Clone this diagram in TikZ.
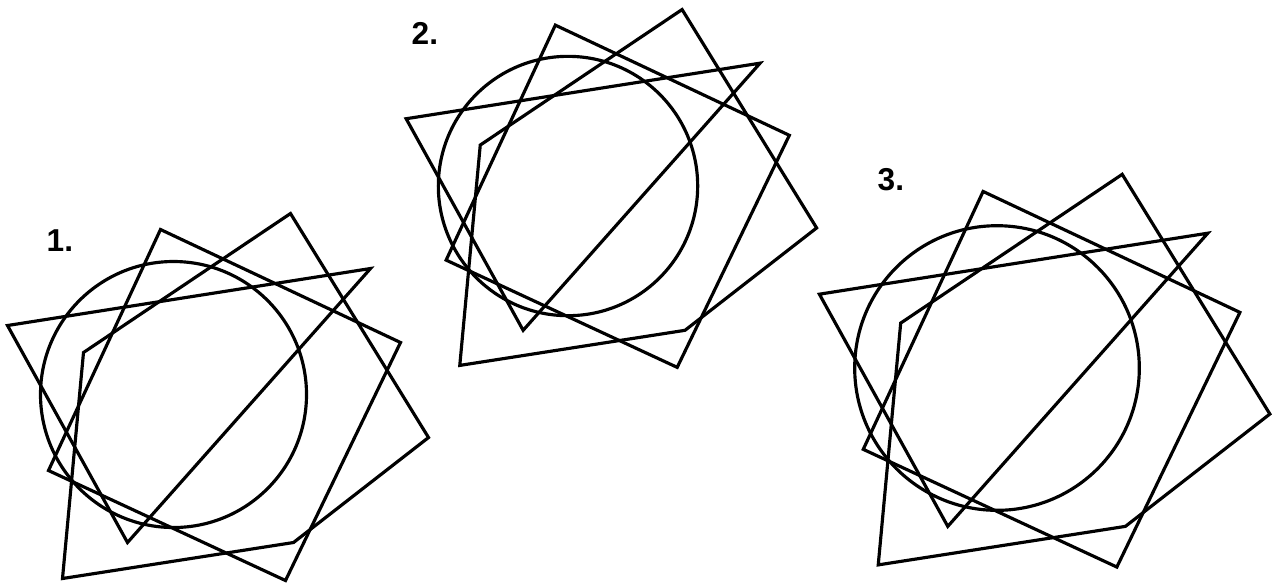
\documentclass[tikz,border=0pt]{standalone}
\usepackage{fontspec}
\setmainfont{Liberation Sans}
\usetikzlibrary{calc}

% one group: circle, triangle, square and five-corner outline (pixel units, centre at circle)
\newcommand{\overlapfig}{%
  \draw[figline] (0,0) circle[radius=133];
  \draw[figline] (-166,-69) -- (197,-126) -- (-46,148) -- cycle;
  \draw[figline] (-13,-165) -- (227,-52) -- (112,186) -- (-125,76) -- cycle;
  \draw[figline] (-90,-42) -- (117,-181) -- (255,43) -- (120,148) -- (-111,184) -- cycle;
}

\begin{document}
\begin{tikzpicture}[
    x=0.01cm, y=-0.01cm,
    figline/.style={draw=black, line width=0.9pt, line join=miter},
    figlabel/.style={font=\fontsize{9}{10}\selectfont\bfseries, inner sep=0pt, anchor=west}
  ]
    \useasboundingbox (0,0) rectangle (1279,584);

    % figure 1
    \begin{scope}[shift={(173.5,394.5)}]
      \overlapfig
    \end{scope}
    \node[figlabel] (lab1) at (46,241) {1.};

    % figure 2
    \begin{scope}[shift={(568,186)}, scale=0.975]
      \overlapfig
    \end{scope}
    \node[figlabel] (lab2) at (411,33) {2.};

    % figure 3
    \begin{scope}[shift={(997,368)}, scale=1.07]
      \overlapfig
    \end{scope}
    \node[figlabel] (lab3) at (877,180) {3.};
  \end{tikzpicture}
\end{document}
